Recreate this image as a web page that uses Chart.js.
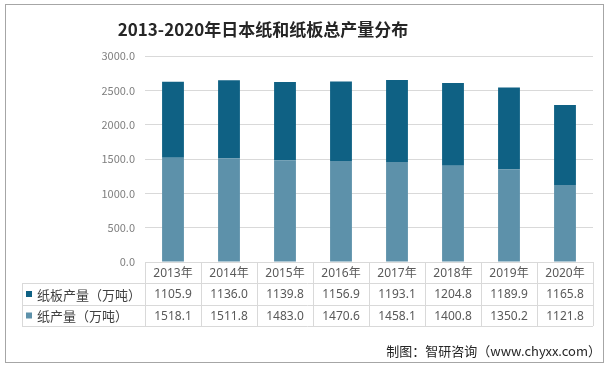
<!DOCTYPE html>
<html>
<head>
<meta charset="utf-8">
<script src="https://cdn.jsdelivr.net/npm/chart.js@4/dist/chart.umd.min.js"></script>
<style>
  html, body { margin: 0; padding: 0; background: #fff; }
  #wrap { width: 609px; height: 368px; position: relative; }
</style>
</head>
<body>
<div id="wrap"><canvas id="chart" width="609" height="368"></canvas></div>
<script>
// data
const years = ["2013年", "2014年", "2015年", "2016年", "2017年", "2018年", "2019年", "2020年"];
const boardVals = [1105.9, 1136.0, 1139.8, 1156.9, 1193.1, 1204.8, 1189.9, 1165.8];
const paperVals = [1518.1, 1511.8, 1483.0, 1470.6, 1458.1, 1400.8, 1350.2, 1121.8];
const boardName = "纸板产量（万吨）";
const paperName = "纸产量（万吨）";
const titleText = "2013-2020年日本纸和纸板总产量分布";
const sourceText = "制图：智研咨询（www.chyxx.com）";

const darkBlue = "#0f6184";
const lightBlue = "#5d91aa";
const lineGray = "#d9d9d9";
const cjk = "'Noto Sans CJK SC', 'Noto Sans', sans-serif";
const num = "'Noto Sans', 'Noto Sans CJK SC', sans-serif";

// title, data table, source note, frame
const extras = {
  id: "extras",
  afterDraw(chart) {
    const ctx = chart.ctx;
    const x = chart.scales.x;
    const area = chart.chartArea;
    const n = years.length;
    const colW = (area.right - area.left) / n;
    const tableLeft = 22;
    const r0 = area.bottom, r1 = r0 + 21, r2 = r1 + 22, r3 = r2 + 21;

    ctx.save();
    // frame
    ctx.strokeStyle = "#a6a6a6";
    ctx.lineWidth = 1;
    ctx.strokeRect(5.5, 4.5, 598, 358);

    // title
    ctx.fillStyle = "#262626";
    ctx.font = "bold 17px " + cjk;
    ctx.textAlign = "center";
    ctx.textBaseline = "middle";
    ctx.fillText(titleText, 263, 30);

    // table lines
    ctx.strokeStyle = lineGray;
    ctx.beginPath();
    ctx.moveTo(area.left, r0 + 0.5); ctx.lineTo(area.right, r0 + 0.5);
    [r1, r2, r3].forEach(y => { ctx.moveTo(tableLeft, y + 0.5); ctx.lineTo(area.right, y + 0.5); });
    for (let i = 0; i <= n; i++) {
      const xx = Math.round(area.left + i * colW) + 0.5;
      ctx.moveTo(xx, r0); ctx.lineTo(xx, r3);
    }
    ctx.moveTo(tableLeft + 0.5, r1); ctx.lineTo(tableLeft + 0.5, r3);
    ctx.stroke();

    // table text
    ctx.fillStyle = "#595959";
    years.forEach((yr, i) => {
      const cx = x.getPixelForValue(i);
      ctx.font = "12px " + num;
      ctx.fillText(yr, cx, (r0 + r1) / 2 + 1);
      ctx.fillText(boardVals[i].toFixed(1), cx, (r1 + r2) / 2 + 1);
      ctx.fillText(paperVals[i].toFixed(1), cx, (r2 + r3) / 2 + 1);
    });

    // legend keys in table
    ctx.textAlign = "left";
    ctx.font = "13px " + cjk;
    ctx.fillStyle = darkBlue;
    ctx.fillRect(26, (r1 + r2) / 2 - 3, 6, 6);
    ctx.fillStyle = lightBlue;
    ctx.fillRect(26, (r2 + r3) / 2 - 3, 6, 6);
    ctx.fillStyle = "#404040";
    ctx.fillText(boardName, 37, (r1 + r2) / 2 + 1);
    ctx.fillText(paperName, 37, (r2 + r3) / 2 + 1);

    // source
    ctx.textAlign = "right";
    ctx.font = "13px " + cjk;
    ctx.fillStyle = "#262626";
    ctx.fillText(sourceText, 601, 351);
    ctx.restore();
  }
};

new Chart(document.getElementById("chart"), {
  type: "bar",
  data: {
    labels: years,
    datasets: [
      { label: paperName, data: paperVals, backgroundColor: lightBlue, stack: "s" },
      { label: boardName, data: boardVals, backgroundColor: darkBlue, stack: "s" }
    ]
  },
  options: {
    responsive: false,
    animation: false,
    layout: { padding: { left: 0, right: 16, top: 56, bottom: 106 } },
    plugins: {
      legend: { display: false },
      title: { display: false },
      tooltip: { enabled: false }
    },
    datasets: { bar: { barPercentage: 0.39, categoryPercentage: 1 } },
    scales: {
      x: { stacked: true, display: false },
      y: {
        stacked: true,
        min: 0,
        max: 3000,
        afterFit(scale) { scale.width = 145; },
        border: { display: false },
        grid: { color: lineGray, drawTicks: false },
        ticks: {
          stepSize: 500,
          padding: 10,
          color: "#7f7f7f",
          font: { size: 11, family: cjk },
          callback: v => Number(v).toFixed(1)
        }
      }
    }
  },
  plugins: [extras]
});
</script>
</body>
</html>
